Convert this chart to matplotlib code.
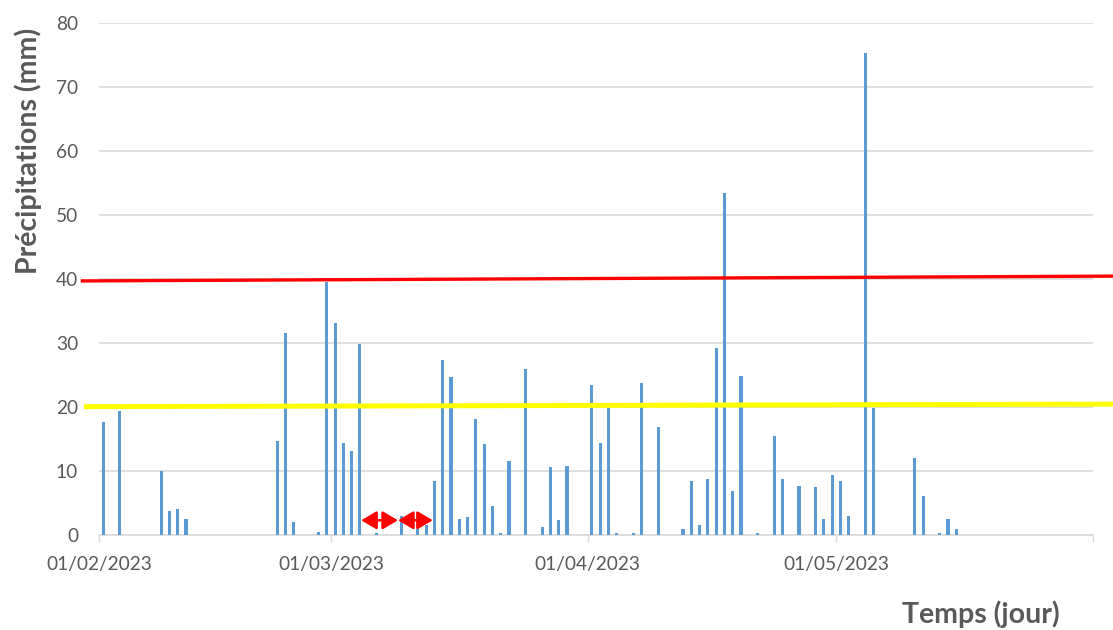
import matplotlib
matplotlib.use("Agg")
import matplotlib.pyplot as plt
import matplotlib.dates as mdates
from matplotlib.patches import FancyArrowPatch
import numpy as np
import pandas as pd

# Daily rainfall (mm), days with rain only
dates = [
    "2023-02-01", "2023-02-03", "2023-02-08", "2023-02-09", "2023-02-10", "2023-02-11",
    "2023-02-22", "2023-02-23", "2023-02-24", "2023-02-27", "2023-02-28",
    "2023-03-01", "2023-03-02", "2023-03-03", "2023-03-04", "2023-03-06", "2023-03-09",
    "2023-03-11", "2023-03-12", "2023-03-13", "2023-03-14", "2023-03-15", "2023-03-16",
    "2023-03-17", "2023-03-18", "2023-03-19", "2023-03-20", "2023-03-21", "2023-03-22",
    "2023-03-24", "2023-03-26", "2023-03-27", "2023-03-28", "2023-03-29",
    "2023-04-01", "2023-04-02", "2023-04-03", "2023-04-04", "2023-04-06", "2023-04-07",
    "2023-04-09", "2023-04-12", "2023-04-13", "2023-04-14", "2023-04-15", "2023-04-16",
    "2023-04-17", "2023-04-18", "2023-04-19", "2023-04-21", "2023-04-23", "2023-04-24",
    "2023-04-26", "2023-04-28", "2023-04-29", "2023-04-30",
    "2023-05-01", "2023-05-02", "2023-05-04", "2023-05-05", "2023-05-10", "2023-05-11",
    "2023-05-13", "2023-05-14", "2023-05-15",
]
rain_mm = [
    17.7, 19.3, 10.0, 3.7, 4.0, 2.5,
    14.7, 31.6, 2.1, 0.4, 39.6,
    33.1, 14.4, 13.2, 29.8, 0.3, 3.0,
    1.0, 1.6, 8.5, 27.4, 24.7, 2.45,
    2.8, 18.1, 14.2, 4.6, 0.3, 11.5,
    25.9, 1.2, 10.6, 2.35, 10.8,
    23.5, 14.4, 19.8, 0.3, 0.3, 23.8,
    16.8, 0.9, 8.4, 1.5, 8.7, 29.2,
    53.5, 6.9, 24.9, 0.3, 15.4, 8.7,
    7.6, 7.5, 2.5, 9.3,
    8.4, 3.0, 75.3, 19.8, 12.0, 6.1,
    0.3, 2.5, 1.0,
]

# Month ticks and their labels (last tick unlabeled)
month_ticks = ["2023-02-01", "2023-03-01", "2023-04-01", "2023-05-01", "2023-06-01"]
month_labels = ["01/02/2023", "01/03/2023", "01/04/2023", "01/05/2023", ""]
y_ticks = [0, 10, 20, 30, 40, 50, 60, 70, 80]

# Hand-drawn threshold lines: (start day offset, end day offset, start mm, end mm)
red_line = (-2.2, 122.5, 39.7, 40.45)
yellow_line = (-1.8, 122.5, 20.05, 20.45)
# Double arrows marking dry spells in March (day offsets from 1 Feb), at height in mm
arrow_spans = [(31.65, 36.1), (36.1, 40.3)]
arrow_y = 2.3

start = pd.Timestamp("2023-02-01")
x0 = mdates.date2num(start)

fig = plt.figure(figsize=(11.13, 6.30), dpi=100)
ax = fig.add_axes([99 / 1113, 1 - 535 / 630, (1093 - 99) / 1113, (535 - 23) / 630])

xs = mdates.date2num(pd.to_datetime(dates)) + 0.5
ax.bar(xs, rain_mm, width=0.38, color="#5B9BD5", zorder=3, linewidth=0)

ax.set_xlim(mdates.date2num(pd.Timestamp(month_ticks[0])),
            mdates.date2num(pd.Timestamp(month_ticks[-1])))
ax.set_ylim(0, 80)

tick_font = dict(family=["Lato", "DejaVu Sans"], size=13.8, color="#595959")
ax.set_xticks(mdates.date2num(pd.to_datetime(month_ticks)))
ax.set_xticklabels(month_labels, **tick_font)
ax.set_yticks(y_ticks)
ax.set_yticklabels([str(v) for v in y_ticks], **tick_font)
ax.tick_params(axis="x", length=5, width=1, color="#D9D9D9", pad=10)
ax.tick_params(axis="y", length=0, pad=15)

ax.grid(axis="y", color="#D9D9D9", linewidth=1.2, zorder=0)
for s in ["top", "right", "left"]:
    ax.spines[s].set_visible(False)
ax.spines["bottom"].set_color("#D9D9D9")
ax.spines["bottom"].set_linewidth(1.2)

# Threshold lines extending past the plot area
ax.plot([x0 + red_line[0], x0 + red_line[1]], [red_line[2], red_line[3]],
        color="#FF0000", linewidth=2.4, clip_on=False, zorder=4,
        solid_capstyle="butt")
ax.plot([x0 + yellow_line[0], x0 + yellow_line[1]], [yellow_line[2], yellow_line[3]],
        color="#FFFF00", linewidth=3.6, clip_on=False, zorder=4,
        solid_capstyle="butt")

for a, b in arrow_spans:
    arr = FancyArrowPatch((x0 + a, arrow_y), (x0 + b, arrow_y),
                          arrowstyle="<|-|>,head_length=0.85,head_width=0.5",
                          mutation_scale=11, color="#FF0000", linewidth=1.8,
                          shrinkA=0, shrinkB=0, zorder=5)
    ax.add_patch(arr)

label_font = dict(family=["Lato", "DejaVu Sans"], size=20.5, weight="bold", color="#595959")
fig.text(28 / 1113, 1 - 151 / 630, "Précipitations (mm)", rotation=90,
         ha="center", va="center", **label_font)
fig.text(1060 / 1113, 1 - 614 / 630, "Temps (jour)", ha="right", va="center",
         **label_font)

fig.savefig("out.png", dpi=100)
